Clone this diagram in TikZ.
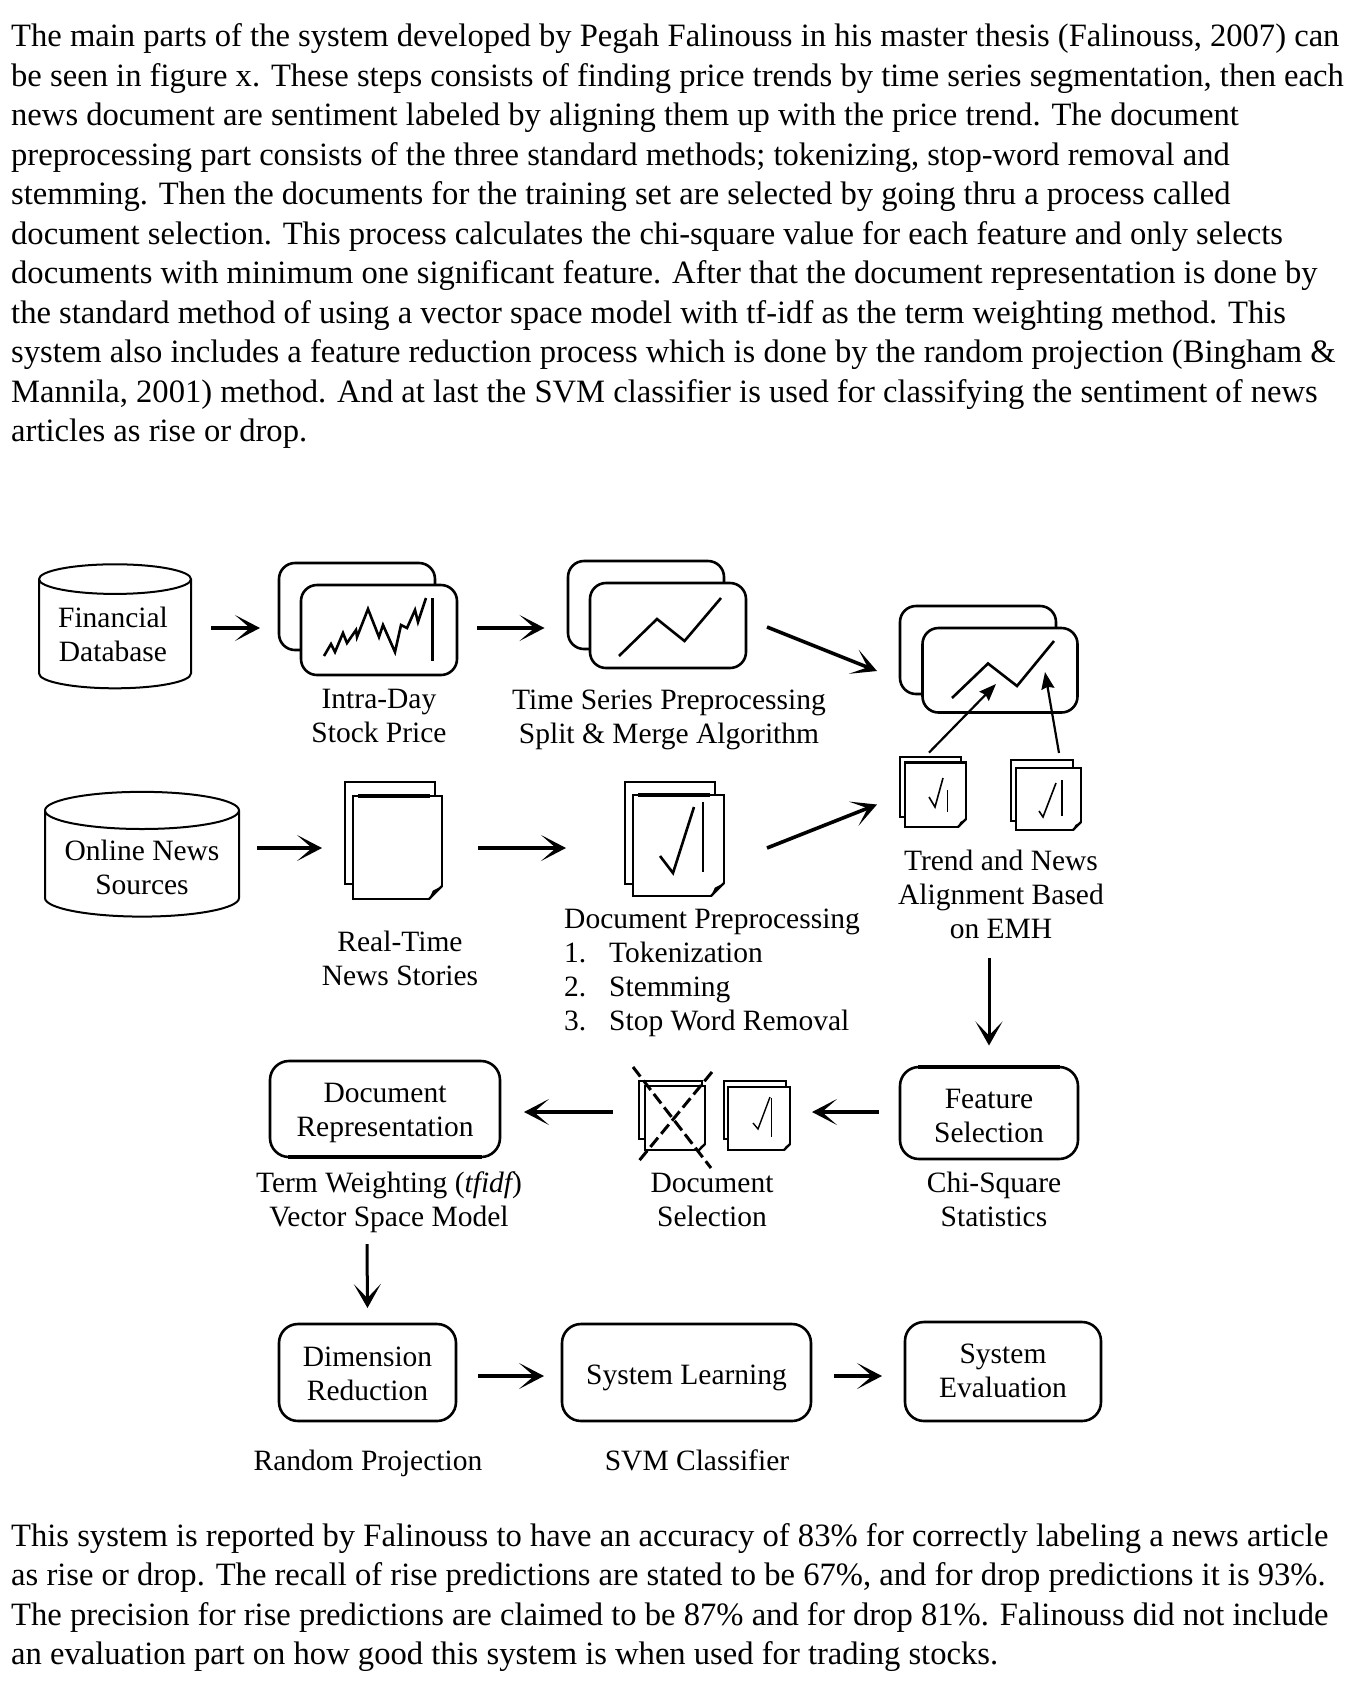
\documentclass[tikz,border=0pt]{standalone}
\usepackage{fontspec}
\setmainfont{Liberation Serif}
\usetikzlibrary{arrows.meta,shapes.geometric}
\tikzset{
  lab/.style={font=\fontsize{29.5}{34}\selectfont,align=center,inner sep=0pt},
  para/.style={font=\fontsize{32.6}{39.5}\selectfont,align=left,inner sep=0pt,anchor=north west},
  db/.style={draw,line width=2pt,cylinder,shape border rotate=90,fill=white,inner sep=0pt,outer sep=0pt,font=\fontsize{29.5}{34}\selectfont,align=center},
  card/.style={draw,line width=2.6pt,rounded corners=16pt,fill=white,inner sep=0pt,outer sep=0pt},
  pbox/.style={draw,line width=2.6pt,rounded corners=19pt,inner sep=0pt,outer sep=0pt,font=\fontsize{29.5}{34}\selectfont,align=center},
  page/.style={draw,line width=2.4pt,fill=white,inner sep=0pt,outer sep=0pt},
  trace/.style={line width=2.6pt,line join=miter},
  bigarrow/.style={line width=4.6pt,-{Stealth[length=25pt,width=26pt,inset=15pt]}},
  midarrow/.style={line width=3.6pt,-{Stealth[length=25pt,width=26pt,inset=15pt]}},
  medarrow/.style={line width=3pt,-{Stealth[length=24pt,width=27pt,inset=14pt]}},
  thinarrow/.style={line width=2.2pt,-{Stealth[length=17pt,width=13pt,inset=2pt]}},
  crossline/.style={line width=3pt,dash pattern=on 12pt off 5pt},
}
\newcommand{\foldcorner}[2]{%
  \fill[white] ([shift={(1.5,-#2)}]#1.south east) -- ([shift={(1.5,1.5)}]#1.south east) -- ([shift={(-#2,1.5)}]#1.south east) -- cycle;
  \draw[line width=2.4pt] ([shift={(0,-#2)}]#1.south east) -- ([shift={(-#2,0)}]#1.south east);
  \fill ([shift={(0,-#2)}]#1.south east) -- ([shift={(-#2,0)}]#1.south east) -- ([shift={(-#2*0.7,-#2*0.65)}]#1.south east) -- cycle;
}
\newcommand{\lowered}[2]{\raisebox{-#1}[\height][\depth]{\begin{tabular}{@{}c@{}}#2\end{tabular}}}
\begin{document}
\begin{tikzpicture}[x=1pt,y=-1pt]
\useasboundingbox (0,0) rectangle (1350,1682);
\node[para] (top) at (11,23.5) {The main parts of the system developed by Pegah Falinouss in his master thesis (Falinouss, 2007) can\\
be seen in figure x. These steps consists of finding price trends by time series segmentation, then each\\
news document are sentiment labeled by aligning them up with the price trend. The document\\
preprocessing part consists of the three standard methods; tokenizing, stop-word removal and\\
stemming. Then the documents for the training set are selected by going thru a process called\\
document selection. This process calculates the chi-square value for each feature and only selects\\
documents with minimum one significant feature. After that the document representation is done by\\
the standard method of using a vector space model with tf-idf as the term weighting method. This\\
system also includes a feature reduction process which is done by the random projection (Bingham \&\\
Mannila, 2001) method. And at last the SVM classifier is used for classifying the sentiment of news\\
articles as rise or drop.};
\node[para] (bottom) at (11,1523) {This system is reported by Falinouss to have an accuracy of 83\% for correctly labeling a news article\\
as rise or drop. The recall of rise predictions are stated to be 67\%, and for drop predictions it is 93\%.\\
The precision for rise predictions are claimed to be 87\% and for drop 81\%. Falinouss did not include\\
an evaluation part on how good this system is when used for trading stocks.};
% databases
\node[db,minimum width=152pt,minimum height=124pt,aspect=0.28] (fin) at (115,634.2) {\kern-4pt\lowered{3pt}{Financial\\Database}};
\node[db,minimum width=194pt,minimum height=109pt,aspect=0.24] (news) at (142,864) {\lowered{6.5pt}{Online News\\Sources}};
% cards
\node[card,minimum width=156pt,minimum height=87pt] (intraB) at (357,606.5) {};
\node[card,minimum width=156pt,minimum height=90pt] (intraF) at (379,630) {};
\draw[trace] (324,656)--(331,644)--(335,652)--(343,633)--(347,643)--(356,630)--(357,637)--(368,609)--(379,637)--(383,625)--(395,652)--(401,625)--(407,628)--(415,610)--(418,622)--(426,598);
\draw[line width=3pt] (432,598)--(432,661);
\node[card,minimum width=156pt,minimum height=88pt] (tsB) at (646,605) {};
\node[card,minimum width=156pt,minimum height=85pt] (tsF) at (668,625.5) {};
\draw[trace] (619,656)--(657,619)--(684.5,641)--(721,598);
\node[card,minimum width=156pt,minimum height=88pt] (trB) at (978,650) {};
\node[card,minimum width=155pt,minimum height=84.5pt] (trF) at (1000,670.25) {};
\draw[trace] (952,698)--(988,663.5)--(1017,686)--(1054,641);
% real-time stories
\node[page,minimum width=90pt,minimum height=102pt] (rtB) at (390,833) {};
\node[page,minimum width=89pt,minimum height=103pt] (rtF) at (397.5,847.5) {};
\foldcorner{rtF}{13}
\draw[line width=4.4pt] (358,796)--(430,796);
% preprocessed docs
\node[page,minimum width=90pt,minimum height=102pt] (docB) at (670,833) {};
\node[page,minimum width=91pt,minimum height=101pt] (docF) at (678.5,845.5) {};
\foldcorner{docF}{13}
\draw[line width=4.4pt] (638,795)--(710,795);
\draw[trace] (660,856)--(673,873)--(694,807);
\draw[line width=2.6pt] (703,802)--(703,872);
% alignment docs
\node[page,minimum width=61pt,minimum height=60pt] (alaB) at (930.5,787) {};
\node[page,minimum width=61pt,minimum height=64.4pt] (alaF) at (935.5,794.8) {};
\foldcorner{alaF}{8}
\draw[line width=1.6pt] (929,797)--(935,807)--(943,778);
\draw[line width=1pt] (947,790)--(947,812);
\node[page,minimum width=62pt,minimum height=61pt] (albB) at (1042,790.5) {};
\node[page,minimum width=65pt,minimum height=62pt] (albF) at (1048.5,799) {};
\foldcorner{albF}{8}
\draw[line width=1.6pt] (1039,811)--(1043,817)--(1056,783);
\draw[line width=1.8pt] (1062,780)--(1062,816);
% document selection
\node[page,minimum width=63pt,minimum height=58pt] (xB) at (670.5,1110) {};
\node[page,minimum width=60pt,minimum height=64pt] (xF) at (675,1118) {};
\foldcorner{xF}{6}
\draw[crossline] (633,1067)--(711,1168);
\draw[crossline] (712,1072)--(638,1162);
\node[page,minimum width=62pt,minimum height=58pt] (okB) at (755,1110) {};
\node[page,minimum width=62pt,minimum height=63pt] (okF) at (759,1118.5) {};
\foldcorner{okF}{6}
\draw[line width=1.4pt] (753,1123)--(758,1129)--(770,1097);
\draw[line width=1pt] (771,1098)--(771,1137);
% process boxes
\node[pbox,minimum width=178pt,minimum height=92pt] (fs) at (989,1113) {\lowered{6pt}{Feature\\Selection}};
\draw[line width=4pt] (918,1067)--(1060,1067);
\node[pbox,minimum width=230pt,minimum height=96pt] (rep) at (385,1109) {\lowered{4pt}{Document\\Representation}};
\draw[line width=4pt] (288,1157)--(482,1157);
\node[pbox,minimum width=177pt,minimum height=97pt] (dim) at (367.5,1372.5) {\lowered{4pt}{Dimension\\Reduction}};
\node[pbox,minimum width=249pt,minimum height=97pt] (learn) at (686.5,1372.5) {\lowered{5pt}{System Learning}};
\node[pbox,minimum width=196pt,minimum height=99pt] (eval) at (1003,1371.5) {\lowered{2pt}{System\\Evaluation}};
% labels
\node[lab] (intralab) at (379,716) {Intra-Day\\Stock Price};
\node[lab] (tslab) at (669,719.5) {Time Series Preprocessing\\Split \& Merge Algorithm};
\node[lab] (rtlab) at (400,958) {Real-Time\\News Stories};
\node[lab,align=left,anchor=west] (doclab) at (564,973) {Document Preprocessing\\\makebox[45pt][l]{1.}Tokenization\\\makebox[45pt][l]{2.}Stemming\\\makebox[45pt][l]{3.}Stop Word Removal};
\node[lab] (trendlab) at (1001,894) {Trend and News\\Alignment Based\\on EMH};
\node[lab] (termlab) at (389,1202.5) {Term Weighting ({\itshape tfidf})\\Vector Space Model};
\node[lab] (sellab) at (712,1200) {Document\\Selection};
\node[lab] (chilab) at (994,1199.5) {Chi-Square\\Statistics};
\node[lab] (rplab) at (368,1463) {Random Projection};
\node[lab] (svmlab) at (697,1460) {SVM Classifier};
% connectors
\draw[bigarrow] ([shift={(96,-6.2)}]fin.center) -- ([shift={(-19,21.5)}]intraB.west);
\draw[bigarrow] ([shift={(20,-2)}]intraF.east) -- ([shift={(-23.5,23)}]tsB.west);
\draw[midarrow] ([shift={(21,1.5)}]tsF.east) -- ([shift={(-23,21)}]trB.west);
\draw[midarrow] ([shift={(43,2.5)}]docF.east) -- ([shift={(-23,17.5)}]alaB.west);
\draw[thinarrow] ([shift={(-6.5,-10)}]alaF.north) -- ([shift={(-4,-28.5)}]trF.south);
\draw[thinarrow] ([shift={(17,-7)}]albB.north) -- ([shift={(45,-40.5)}]trF.south);
\draw[midarrow] ([shift={(115,-16)}]news.center) -- ([shift={(-23,15)}]rtB.west);
\draw[midarrow] ([shift={(36,0.5)}]rtF.east) -- ([shift={(-59,15)}]docB.west);
\draw[medarrow] ([shift={(-12,64)}]trendlab.center) -- ([shift={(0,-21.5)}]fs.north);
\draw[midarrow] ([shift={(-21,-1)}]fs.west) -- ([shift={(22,-6.5)}]okF.east);
\draw[midarrow] ([shift={(-26,2)}]xB.west) -- ([shift={(24,3)}]rep.east);
\draw[medarrow] ([shift={(-22,41.5)}]termlab.center) -- ([shift={(0,-16)}]dim.north);
\draw[bigarrow] ([shift={(22,3.5)}]dim.east) -- ([shift={(-18,3.5)}]learn.west);
\draw[bigarrow] ([shift={(23,3.5)}]learn.east) -- ([shift={(-23,4.5)}]eval.west);
\end{tikzpicture}
\end{document}
